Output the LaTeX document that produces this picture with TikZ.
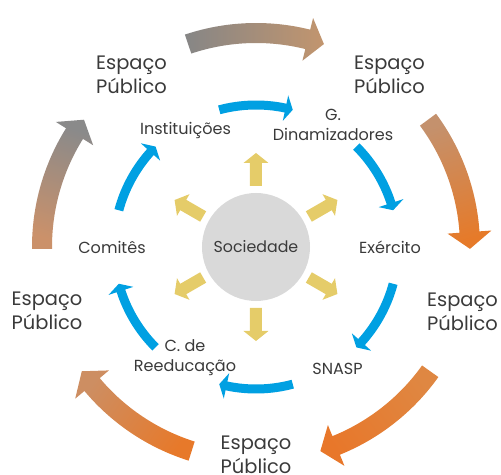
\documentclass[tikz,border=0pt]{standalone}
\usepackage{fontspec}
\setmainfont{Poppins}

\definecolor{labelgray}{HTML}{3A3A3A}
\definecolor{socgray}{HTML}{D9D9D9}
\definecolor{ringblue}{RGB}{0,160,226}
\definecolor{raygold}{HTML}{E5CC69}
\definecolor{ringgray}{HTML}{868686}
\definecolor{ringgrayb}{HTML}{8A8A8A}
\definecolor{ringtan}{HTML}{C2956E}
\definecolor{ringtanb}{HTML}{C4916D}
\definecolor{ringtanc}{HTML}{CB916A}
\definecolor{ringorange}{HTML}{E67A29}
\definecolor{ringorangeb}{HTML}{DF8742}
\definecolor{ringorangec}{HTML}{E8772A}
\definecolor{ringoranged}{HTML}{E7792A}
\definecolor{ringpeach}{HTML}{CD8E62}

\tikzset{
  espaco/.style={align=center, inner sep=0pt, text=labelgray,
    font=\fontsize{16.6}{20.5}\selectfont},
  orgao/.style={align=center, inner sep=0pt, text=labelgray,
    font=\fontsize{13.7}{17}\selectfont},
  sociedade/.style={circle, fill=socgray, inner sep=0pt, minimum size=3.24cm,
    text=labelgray, font=\fontsize{13.5}{16}\selectfont},
  blue arrow/.style={fill=ringblue},
  ray arrow/.style={fill=raygold},
}

% one wide arrow of the outer ring, running clockwise round angle #1
\newcommand{\ringarrow}[3]{%
  \shade[top color=#2, bottom color=#3, shading angle=#1]
    (#1+18.5:204) arc[start angle=#1+18.5, end angle=#1-14, radius=204]
    -- (#1-14:192) -- (#1-18.5:214) -- (#1-14:236) -- (#1-14:224)
    arc[start angle=#1-14, end angle=#1+18.5, radius=224] -- cycle;}

\begin{document}
\begin{tikzpicture}[x=0.03cm, y=0.03cm]
  \useasboundingbox (-256,-228) rectangle (245,247);

  % Outer ring, from grey at the top to orange at the bottom
  \ringarrow{90}{ringgray}{ringtan}
  \ringarrow{18}{ringtanb}{ringorange}
  \ringarrow{-54}{ringorangeb}{ringorangec}
  \ringarrow{-126}{ringoranged}{ringpeach}
  \ringarrow{162}{ringtanc}{ringgrayb}

  % Inner ring of blue arrows
  \foreach \c in {90,30,-30,-90,-150,150}
    \fill[blue arrow]
      (\c+15:137.5) arc[start angle=\c+15, end angle=\c-12, radius=137.5]
      -- (\c-12:129) -- (\c-15:142) -- (\c-12:155) -- (\c-12:146.5)
      arc[start angle=\c-12, end angle=\c+15, radius=146.5] -- cycle;

  % Rays out of the centre
  \foreach \a in {30,90,...,330}
    \fill[ray arrow, rotate=\a]
      (61,-6) -- (84,-6) -- (84,-12.5) -- (94,0) -- (84,12.5) -- (84,6)
      -- (61,6) -- cycle;

  % Centre
  \node[sociedade] (soc) at (0,0) {Sociedade};

  % Labels of the inner ring
  \node[orgao] (inst) at (-70.5,117) {Instituições};
  \node[orgao] (gdin) at (77,122) {G.\\Dinamizadores};
  \node[orgao] (exer) at (134,0) {Exército};
  \node[orgao] (snasp) at (81.5,-122) {SNASP};
  \node[orgao] (reed) at (-71,-111) {C. de\\Reeducação};
  \node[orgao] (comi) at (-144,0) {Comitês};

  % Labels of the outer ring
  \node[espaco] (ep1) at (-124.5,172) {Espaço\\Público};
  \node[espaco] (ep2) at (133.5,172) {Espaço\\Público};
  \node[espaco] (ep3) at (206.5,-65) {Espaço\\Público};
  \node[espaco] (ep4) at (0,-208) {Espaço\\Público};
  \node[espaco] (ep5) at (-209,-64) {Espaço\\Público};
\end{tikzpicture}
\end{document}
